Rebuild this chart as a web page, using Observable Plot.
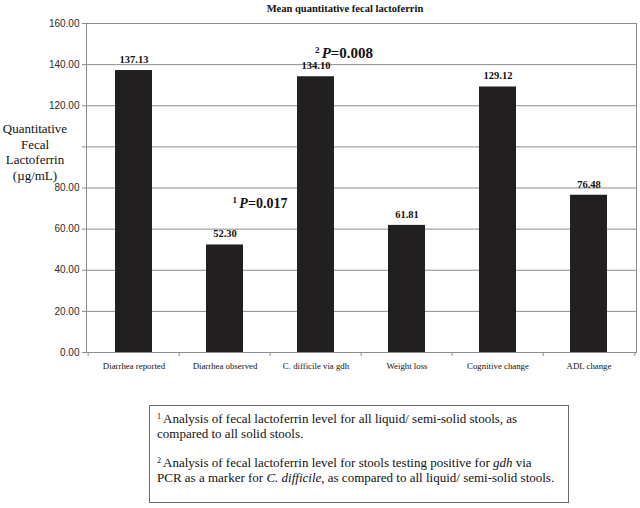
<!DOCTYPE html>
<html><head><meta charset="utf-8">
<script src="https://cdn.jsdelivr.net/npm/d3@7"></script>
<script src="https://cdn.jsdelivr.net/npm/@observablehq/plot@0.6"></script>
<style>
body{margin:0;background:#fff;}
#wrap{position:relative;width:640px;height:508px;font-family:"Liberation Serif","Times New Roman",serif;color:#111;}
#chart{position:absolute;left:0;top:0;}
#title{position:absolute;left:245px;width:200px;top:3px;text-align:center;font-weight:bold;font-size:10.5px;}
#ytitle{position:absolute;left:-5px;width:80px;top:121px;text-align:center;font-size:13px;line-height:15.5px;}
#note{position:absolute;left:149px;top:405px;width:418px;height:96px;border:1px solid #6a6a6a;box-sizing:content-box;font-size:13px;line-height:14.5px;}
#note p{margin:0;padding:6px 0 0 7px;white-space:nowrap;}
#note p + p{padding-top:15px;}
#note sup{font-size:8px;vertical-align:top;position:relative;top:-2px;margin-right:2px;}
</style></head><body>
<div id="wrap">
<div id="chart"></div>
<div id="title">Mean quantitative fecal lactoferrin</div>
<div id="ytitle">Quantitative<br>Fecal<br>Lactoferrin<br>(µg/mL)</div>
<div id="note">
<p><sup>1</sup>Analysis of fecal lactoferrin level for all liquid/ semi-solid stools, as<br>compared to all solid stools.</p>
<p><sup>2</sup>Analysis of fecal lactoferrin level for stools testing positive for <i>gdh</i> via<br>PCR as a marker for <i>C. difficile</i>, as compared to all liquid/ semi-solid stools.</p>
</div>
</div>
<script>
const categories = ["Diarrhea reported", "Diarrhea observed", "C. difficile via gdh", "Weight loss", "Cognitive change", "ADL change"];
const values = [137.13, 52.30, 134.10, 61.81, 129.12, 76.48];
const yTicks = [0, 20, 40, 60, 80, 100, 120, 140, 160];
const yTickLabels = ["0.00", "20.00", "40.00", "60.00", "80.00", "", "120.00", "140.00", "160.00"];
const annotCategories = ["Diarrhea observed", "C. difficile via gdh"];
const annotValues = [72.5, 145.5];
const annotMarks = ["1", "2"];
const annotTexts = ["0.017", "0.008"];

const W = 640, H = 380, mL = 86, mR = 4, mT = 23, mB = 28;
const step = (W - mL - mR) / categories.length;
const gray = "#8c8c8c";
const data = categories.map((c, i) => ({category: c, value: values[i]}));
const annots = annotCategories.map((c, i) => ({category: c, y: annotValues[i], mark: annotMarks[i], p: annotTexts[i]}));

const chart = Plot.plot({
  width: W, height: H,
  marginLeft: mL, marginRight: mR, marginTop: mT, marginBottom: mB,
  style: {fontFamily: "'Liberation Serif', serif", background: "transparent", color: "#111"},
  x: {domain: categories, paddingInner: 0.59, paddingOuter: 0.295, axis: null},
  y: {domain: [0, 160], axis: null},
  marks: [
    Plot.gridY(yTicks, {stroke: gray, strokeOpacity: 1}),
    Plot.frame({stroke: gray}),
    Plot.axisY(yTicks, {tickSize: 4, tickFormat: () => "", color: gray, label: null}),
    Plot.axisY(yTicks, {tickSize: 0, tickPadding: 7, tickFormat: d => yTickLabels[yTicks.indexOf(d)], fontFamily: "'Liberation Sans', Arial, sans-serif", fontSize: 10, color: "#2a2a2a", label: null}),
    Plot.axisX(categories, {tickSize: 4, dx: -step / 2, tickFormat: () => "", color: gray, label: null}),
    Plot.axisX([categories[categories.length - 1]], {tickSize: 4, dx: step / 2, tickFormat: () => "", color: gray, label: null}),
    Plot.axisX(categories, {tickSize: 0, tickPadding: 10, fontSize: 8.8, color: "#111", label: null}),
    Plot.barY(data, {x: "category", y: "value", fill: "#221f20"}),
    Plot.text(data, {x: "category", y: "value", text: d => d.value.toFixed(2), dy: -11, fontWeight: "bold", fontSize: 10.5, fill: "#111"}),
    Plot.text([annots[0]], {x: "category", y: "y", text: d => d.mark + " P=" + d.p, dx: 35, fontWeight: "bold", fontSize: 14, fill: "#111"}),
    Plot.text([annots[1]], {x: "category", y: "y", text: d => d.mark + " P=" + d.p, dx: 28, fontWeight: "bold", fontSize: 15, fill: "#111"})
  ]
});
document.getElementById("chart").appendChild(chart);

// style the annotation texts: superscript number, italic P
const svgns = "http://www.w3.org/2000/svg";
chart.querySelectorAll("text").forEach(t => {
  const m = /^(\d) P=(.*)$/.exec(t.textContent);
  if (!m) return;
  t.textContent = "";
  const s = document.createElementNS(svgns, "tspan");
  s.setAttribute("font-size", "9");
  s.setAttribute("dy", "-5");
  s.textContent = m[1] + " ";
  const p = document.createElementNS(svgns, "tspan");
  p.setAttribute("font-style", "italic");
  p.setAttribute("dy", "5");
  p.textContent = "P";
  const r = document.createElementNS(svgns, "tspan");
  r.textContent = "=" + m[2];
  t.append(s, p, r);
});
</script>
</body></html>
